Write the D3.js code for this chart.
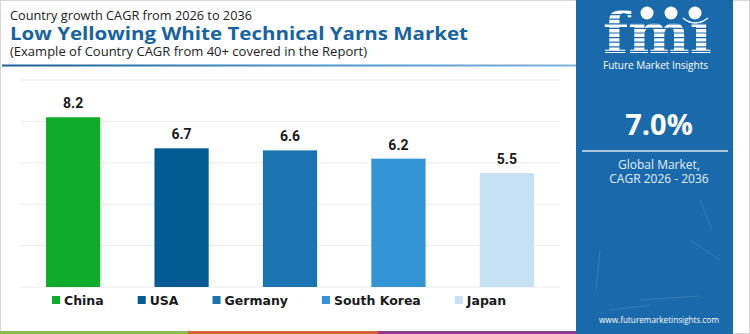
<!DOCTYPE html>
<html><head><meta charset="utf-8">
<script src="https://cdn.jsdelivr.net/npm/d3@7"></script>
<style>
html,body{margin:0;padding:0;background:#fff;}
svg{display:block;}
</style></head>
<body>
<svg id="c" width="750" height="334"></svg>
<script>
const categories = ["China", "USA", "Germany", "South Korea", "Japan"];
const values = [8.2, 6.7, 6.6, 6.2, 5.5];
const colors = ["#0fac2c", "#045a93", "#1b74b1", "#3394d5", "#c6e1f3"];
const yTicks = [0, 2, 4, 6, 8, 10];
const globalCagr = "7.0%";
const titleTop = "Country growth CAGR from 2026 to 2036";
const titleMain = "Low Yellowing White Technical Yarns Market";
const titleSub = "(Example of Country CAGR from 40+ covered in the Report)";

const svg = d3.select("#c");
const W = 750, H = 334;
const panelColor = "#1a6aab";
const font = "'Open Sans', 'Noto Sans', sans-serif";
const wide = "'DejaVu Sans', sans-serif";

// outer border
svg.append("rect").attr("x",0.5).attr("y",0.5).attr("width",W-1).attr("height",H-1)
  .attr("fill","#fff").attr("stroke","#d9d9d9");

// titles (stretched to the reference widths)
svg.append("text").attr("x",10).attr("y",19.5).attr("font-family",font)
  .attr("font-size",13.3).attr("fill","#222")
  .attr("textLength",242).attr("lengthAdjust","spacingAndGlyphs").text(titleTop);
svg.append("text").attr("x",10).attr("y",39.5).attr("font-family",font)
  .attr("font-weight",700).attr("font-size",18.5).attr("fill","#1763a3")
  .attr("textLength",458).attr("lengthAdjust","spacingAndGlyphs").text(titleMain);
svg.append("text").attr("x",10).attr("y",56).attr("font-family",font)
  .attr("font-size",13.3).attr("fill","#222")
  .attr("textLength",357).attr("lengthAdjust","spacingAndGlyphs").text(titleSub);

// gradient line under title
const defs = svg.append("defs");
const lg = defs.append("linearGradient").attr("id","tl").attr("x1","0").attr("x2","1");
lg.append("stop").attr("offset","0").attr("stop-color","#1d5f96");
lg.append("stop").attr("offset","0.5").attr("stop-color","#4a90c8");
lg.append("stop").attr("offset","1").attr("stop-color","#7fb3dc");
svg.append("rect").attr("x",2).attr("y",64.5).attr("width",574).attr("height",2).attr("fill","url(#tl)");

// chart
const x = d3.scaleBand().domain(categories).range([20, 560]).paddingInner(0.5).paddingOuter(0.24);
const y = d3.scaleLinear().domain([0, 10]).range([287, 80]);

svg.append("g").selectAll("line").data(yTicks).join("line")
  .attr("x1",20).attr("x2",560).attr("y1",d=>y(d)).attr("y2",d=>y(d))
  .attr("stroke","#ececec").attr("stroke-width",1);

svg.append("g").selectAll("rect").data(values).join("rect")
  .attr("x",(d,i)=>x(categories[i])).attr("width",x.bandwidth())
  .attr("y",d=>y(d)).attr("height",d=>y(0)-y(d))
  .attr("fill",(d,i)=>colors[i]);

svg.append("g").selectAll("text").data(values).join("text")
  .attr("x",(d,i)=>x(categories[i])+x.bandwidth()/2).attr("y",d=>y(d)-9)
  .attr("text-anchor","middle").attr("font-family","Roboto, Arial, sans-serif")
  .attr("font-weight",700).attr("font-size",14).attr("fill","#1a1a1a")
  .text(d=>d.toFixed(1));

// legend
const leg = svg.append("g");
let lx = 52;
categories.forEach((c,i)=>{
  leg.append("rect").attr("x",lx).attr("y",296).attr("width",8).attr("height",8).attr("fill",colors[i]);
  const t = leg.append("text").attr("x",lx+12).attr("y",304.5).attr("font-family",wide)
    .attr("font-weight",700).attr("font-size",12.5).attr("fill","#1a1a1a").text(c);
  lx += 12 + t.node().getComputedTextLength() + 34;
});

// bottom stripes
svg.append("rect").attr("x",0).attr("y",331).attr("width",188).attr("height",3).attr("fill","#8cba58");
svg.append("rect").attr("x",188).attr("y",331).attr("width",190).attr("height",3).attr("fill","#d6623a");
svg.append("rect").attr("x",378).attr("y",331).attr("width",198).attr("height",3).attr("fill","#8c3b8d");

// right panel
const px = 576, pw = 157, cx = 659;
svg.append("rect").attr("x",px).attr("y",0).attr("width",pw).attr("height",334).attr("fill",panelColor);

// faint texture lines
const tex = [[600,250,596,290],[640,300,700,296],[690,240,720,260],[610,310,650,305],[700,200,712,230]];
svg.append("g").selectAll("line").data(tex).join("line")
  .attr("x1",d=>d[0]).attr("y1",d=>d[1]).attr("x2",d=>d[2]).attr("y2",d=>d[3])
  .attr("stroke","#ffffff").attr("stroke-opacity",0.12).attr("stroke-width",1);

// logo
svg.append("text").attr("x",603).attr("y",53).attr("font-family","'DejaVu Serif', serif")
  .attr("font-weight",700).attr("font-size",56).attr("fill","#fff")
  .attr("textLength",109).attr("lengthAdjust","spacingAndGlyphs").text("fm\u0131");
const stripes = d3.range(10, 56, 4.6);
svg.append("g").selectAll("line").data(stripes).join("line")
  .attr("x1",600).attr("x2",716).attr("y1",d=>d).attr("y2",d=>d)
  .attr("stroke",panelColor).attr("stroke-width",1.2);
svg.append("g").selectAll("circle").data([647,671,695]).join("circle")
  .attr("cx",d=>d).attr("cy",13).attr("r",6.5).attr("fill","#fff");
svg.append("path").attr("d","M683,18 Q695,28 708,18").attr("fill","none")
  .attr("stroke","#fff").attr("stroke-width",1.5);
svg.append("text").attr("x",603).attr("y",69).attr("font-family",font)
  .attr("font-size",10.5).attr("fill","#fff")
  .attr("textLength",105).attr("lengthAdjust","spacingAndGlyphs").text("Future Market Insights");

svg.append("text").attr("x",cx).attr("y",135).attr("text-anchor","middle").attr("font-family",font)
  .attr("font-weight",700).attr("font-size",29).attr("fill","#fff").text(globalCagr);
svg.append("line").attr("x1",582).attr("x2",728).attr("y1",151).attr("y2",151)
  .attr("stroke","#d6e6f4").attr("stroke-width",1.5);
svg.append("text").attr("x",cx).attr("y",169).attr("text-anchor","middle").attr("font-family",font)
  .attr("font-size",12).attr("fill","#e3eef8").text("Global Market,");
svg.append("text").attr("x",cx).attr("y",183).attr("text-anchor","middle").attr("font-family",font)
  .attr("font-size",12).attr("fill","#e3eef8").text("CAGR 2026 - 2036");
svg.append("text").attr("x",cx).attr("y",323).attr("text-anchor","middle").attr("font-family",font)
  .attr("font-size",9.5).attr("fill","#fff")
  .attr("textLength",120).attr("lengthAdjust","spacingAndGlyphs").text("www.futuremarketinsights.com");
</script>
</body></html>
